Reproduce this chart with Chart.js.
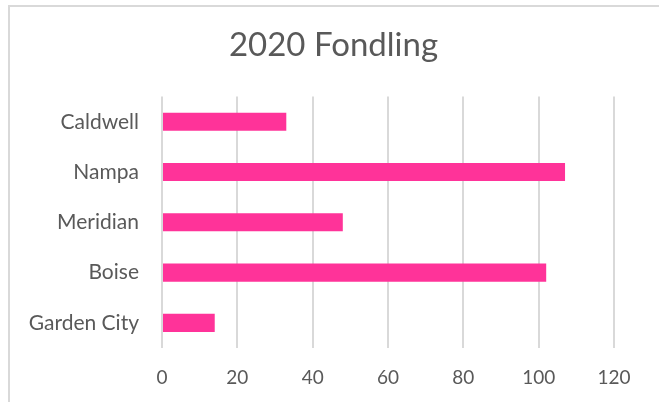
<!DOCTYPE html>
<html>
<head>
<meta charset="utf-8">
<script src="https://cdn.jsdelivr.net/npm/chart.js@4"></script>
<style>
  html, body { margin: 0; padding: 0; background: #ffffff; }
  #wrap { position: relative; width: 659px; height: 402px; overflow: hidden; }
  #frame { position: absolute; left: 8px; top: 5px; width: 700px; height: 450px;
           border-left: 2px solid #d9d9d9; border-top: 2px solid #d9d9d9; box-sizing: border-box; }
  canvas { position: absolute; left: 0; top: 0; }
</style>
</head>
<body>
<div id="wrap">
  <div id="frame"></div>
  <canvas id="c" width="659" height="402"></canvas>
</div>
<script>
const chartTitle = "2020 Fondling";
const categories = ["Caldwell", "Nampa", "Meridian", "Boise", "Garden City"];
const values = [33, 107, 48, 102, 14];
const xTickMin = 0;
const xTickMax = 120;
const xTickStep = 20;

const FONT = "Lato, 'Open Sans', sans-serif";
const TEXT = "#595959";

new Chart(document.getElementById("c"), {
  type: "bar",
  data: {
    labels: categories,
    datasets: [{
      data: values,
      backgroundColor: "#ff3399",
      borderWidth: 0,
      barPercentage: 0.36,
      categoryPercentage: 1.0
    }]
  },
  options: {
    indexAxis: "y",
    responsive: false,
    animation: false,
    layout: { padding: { left: 8, right: 0, top: 0, bottom: 0 } },
    plugins: {
      legend: { display: false },
      tooltip: { enabled: false },
      title: {
        display: true,
        text: chartTitle,
        color: TEXT,
        font: { family: FONT, size: 33, weight: "normal" },
        padding: { top: 26, bottom: 31 }
      }
    },
    scales: {
      x: {
        min: xTickMin,
        max: xTickMax,
        ticks: { stepSize: xTickStep, color: TEXT, font: { family: FONT, size: 19 }, padding: 18 },
        grid: { color: "#d9d9d9", lineWidth: 2, drawTicks: false },
        border: { display: false },
        afterFit: (s) => { s.height = 402 - 348; }
      },
      y: {
        ticks: { color: TEXT, font: { family: FONT, size: 21 }, padding: 23 },
        grid: { display: false, drawTicks: false },
        border: { display: false },
        afterFit: (s) => { s.width = 162 - 8; }
      },
      yRight: {
        position: "right",
        display: true,
        ticks: { display: false },
        grid: { display: false, drawTicks: false },
        border: { display: false },
        afterFit: (s) => { s.width = 659 - 614; }
      }
    }
  }
});
</script>
</body>
</html>
